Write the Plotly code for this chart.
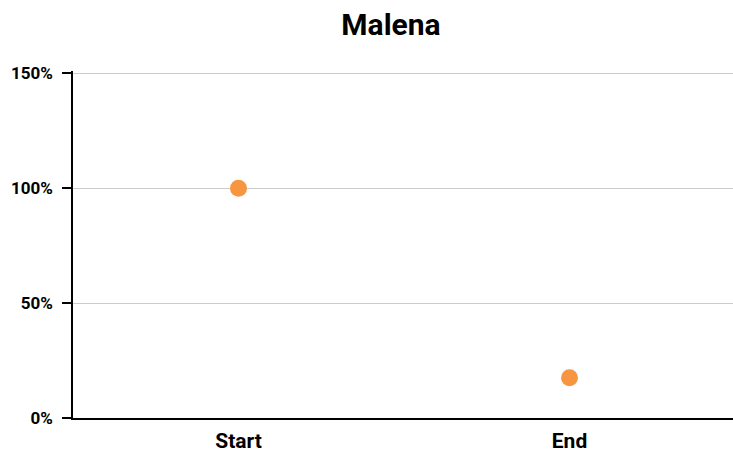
import plotly.graph_objects as go

categories = ["Start", "End"]
values = [1.0, 0.175]
tick_vals = [0, 0.5, 1.0, 1.5]
tick_text = ["<b>0%</b>", "<b>50%</b>", "<b>100%</b>", "<b>150%</b>"]

fig = go.Figure()
fig.add_trace(go.Scatter(x=categories, y=values, mode="markers",
                         marker=dict(size=17, color="#f79540"), showlegend=False))

fig.update_layout(
    width=735, height=452,
    paper_bgcolor="white", plot_bgcolor="white",
    margin=dict(l=73, r=0, t=71, b=34),
    font=dict(family="Roboto", color="black"),
    title=dict(text="<b>Malena</b>", x=391 / 735, xref="container", xanchor="center",
               y=1 - 24 / 452, yref="container", yanchor="middle",
               font=dict(size=30, family="Roboto", color="black")),
)
fig.update_xaxes(showline=True, linecolor="black", linewidth=1.5, showgrid=False,
                 ticks="", range=[-0.5, 1.5], ticklabelstandoff=3,
                 tickvals=categories, ticktext=["<b>" + c + "</b>" for c in categories],
                 tickfont=dict(size=21, family="Roboto"))
# range a bit above 150% so the top grid line is drawn
fig.update_yaxes(range=[0, 1.51], tickvals=tick_vals, ticktext=tick_text,
                 showline=True, linecolor="black", linewidth=1.5,
                 ticks="outside", ticklen=9, tickcolor="black", tickwidth=1.5,
                 gridcolor="#cccccc", gridwidth=1, zeroline=False, ticklabelstandoff=6,
                 tickfont=dict(size=17, family="Roboto"))

# drop the default body margin and scrollbars so the figure sits at the page corner
fig.write_html("out.html", config={"displayModeBar": False},
               post_script="document.body.style.margin='0';"
               "document.documentElement.style.overflow='hidden';")
